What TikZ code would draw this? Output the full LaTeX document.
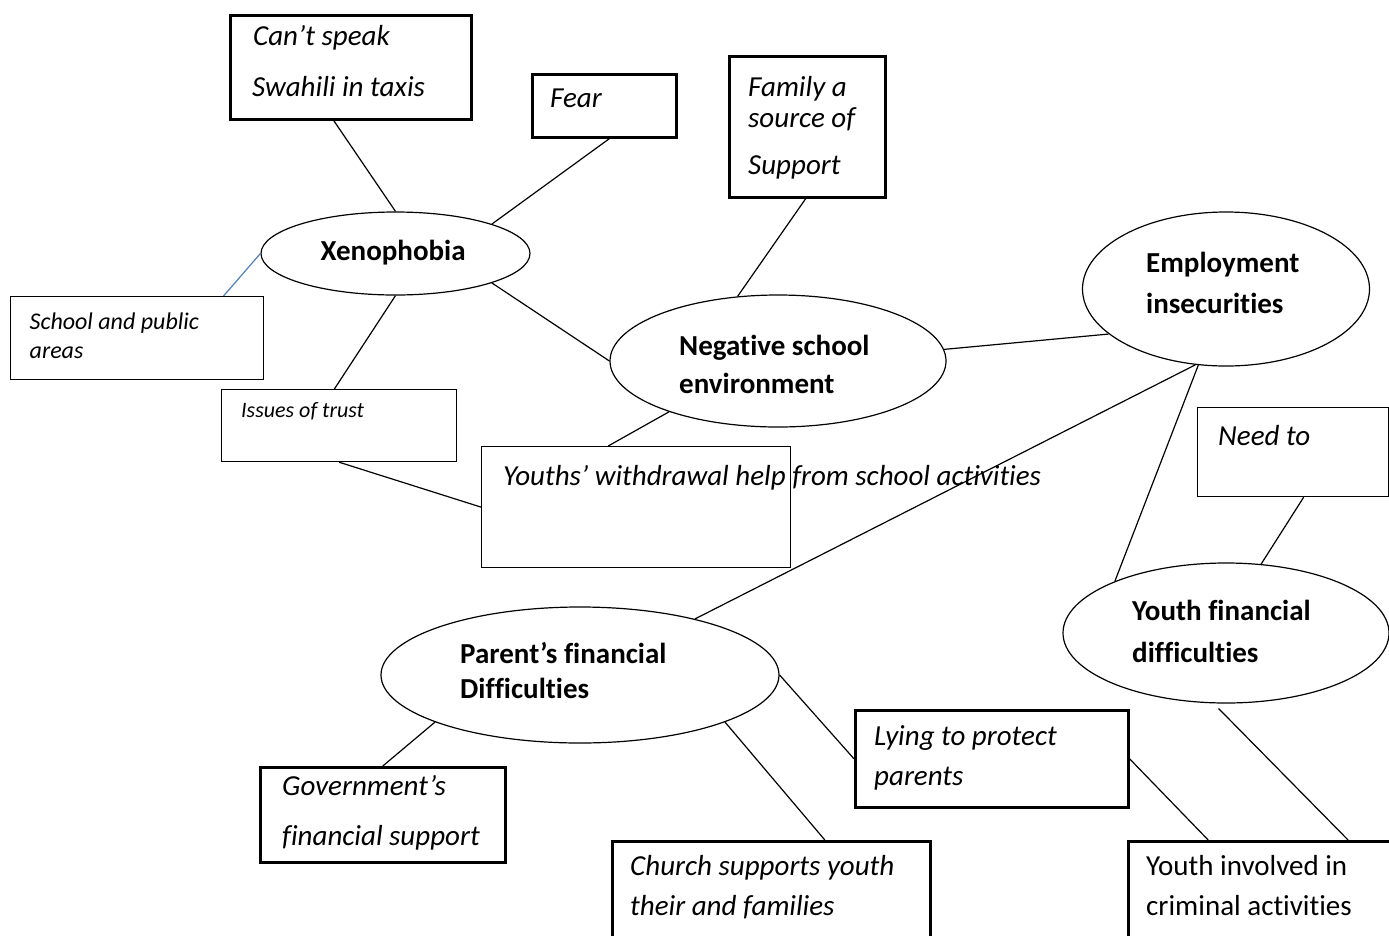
\documentclass[tikz,border=0pt]{standalone}
\usepackage{fontspec}
\setmainfont[Ligatures=CommonOff]{Carlito}
\usetikzlibrary{shapes.geometric,calc}
\definecolor{wordblue}{RGB}{79,129,189}
\begin{document}
\begin{tikzpicture}[x=1pt,y=-1pt,
  thickbox/.style={draw,line width=2.6pt,rectangle,inner sep=0pt,anchor=north west},
  thinbox/.style={draw,line width=1.2pt,rectangle,inner sep=0pt,anchor=north west},
  ell/.style={draw,line width=1.2pt,ellipse,inner sep=0pt},
  lbl/.style={inner sep=0pt,anchor=base west,font=\fontsize{29}{34}\selectfont\itshape},
  lblr/.style={inner sep=0pt,anchor=base west,font=\fontsize{29}{34}\selectfont},
  lblb/.style={inner sep=0pt,anchor=base west,font=\fontsize{29}{34}\selectfont\bfseries},
  conn/.style={line width=1.2pt}]
\useasboundingbox (0,0) rectangle (1389,935);
\clip (0,0) rectangle (1389,935);
\fill[white] (0,0) rectangle (1389,935);
% boxes
\node[thickbox,minimum width=241pt,minimum height=104pt] (cant) at (229,14) {};
\node[thickbox,minimum width=144pt,minimum height=63pt] (fear) at (531,73) {};
\node[thickbox,minimum width=156pt,minimum height=141pt] (family) at (728,55) {};
\node[thinbox,minimum width=253pt,minimum height=83pt] (school) at (10,296) {};
\node[thinbox,minimum width=235pt,minimum height=72pt] (trust) at (221,389) {};
\node[thinbox,minimum width=309pt,minimum height=121pt] (youths) at (481,446) {};
\node[thinbox,minimum width=191pt,minimum height=89pt] (needto) at (1197,407) {};
\node[thickbox,minimum width=245pt,minimum height=95pt] (gov) at (259,766) {};
\node[thickbox,minimum width=318pt,minimum height=130pt] (church) at (611,840) {};
\node[thickbox,minimum width=273pt,minimum height=97pt] (lying) at (854,709) {};
\node[thickbox,minimum width=268pt,minimum height=130pt] (crim) at (1127,840) {};
% ellipses
\node[ell,minimum width=269pt,minimum height=83pt] (xeno) at (395.5,253.5) {};
\node[ell,minimum width=336pt,minimum height=132pt] (nse) at (778,361) {};
\node[ell,minimum width=287pt,minimum height=154pt] (emp) at (1226,289) {};
\node[ell,minimum width=326pt,minimum height=140pt] (yf) at (1226,633) {};
\node[ell,minimum width=398pt,minimum height=136pt] (parent) at (580,675) {};
% texts
\node[lbl] (t1a) at (253,45) {Can’t speak};
\node[lbl] (t1b) at (252,96) {Swahili in taxis};
\node[lbl] (t2) at (550,107) {Fear};
\node[lbl] (t3a) at (748,96) {Family a};
\node[lbl] (t3b) at (748,127) {source of};
\node[lbl] (t3c) at (748,174) {Support};
\node[lblb] (t4) at (320.5,260) {Xenophobia};
\node[lbl,font=\fontsize{24}{28}\selectfont\itshape] (t5a) at (29.5,329) {School and public};
\node[lbl,font=\fontsize{24}{28}\selectfont\itshape] (t5b) at (29.5,358) {areas};
\node[lbl,font=\fontsize{22}{26}\selectfont\itshape] (t6) at (241,417) {Issues of trust};
\node[lbl] (t7) at (503,485) {Youths’ withdrawal help from school activities};
\node[lblb] (t8a) at (679,355) {Negative school};
\node[lblb] (t8b) at (679,393) {environment};
\node[lblb] (t9a) at (1146,272) {Employment};
\node[lblb] (t9b) at (1146,313) {insecurities};
\node[lbl] (t10) at (1218,445) {Need to};
\node[lblb] (t11a) at (1132,620) {Youth financial};
\node[lblb] (t11b) at (1132,662) {difficulties};
\node[lblb] (t12a) at (460,663) {Parent’s financial};
\node[lblb] (t12b) at (460,698) {Difficulties};
\node[lbl] (t13a) at (282,795) {Government’s};
\node[lbl] (t13b) at (282,845) {financial support};
\node[lbl] (t14a) at (874,745) {Lying to protect};
\node[lbl] (t14b) at (874,785) {parents};
\node[lbl] (t15a) at (630,875) {Church supports youth};
\node[lbl] (t15b) at (630,915) {their and families};
\node[lblr] (t16a) at (1146,875) {Youth involved in};
\node[lblr] (t16b) at (1146,915) {criminal activities};
% connectors
\draw[conn] ($(cant.south west)!0.43!(cant.south east)$) -- (xeno.north);
\draw[conn] ($(fear.south west)!0.535!(fear.south east)$) -- (xeno.17.7);
\draw[conn] ($(family.south west)!0.49!(family.south east)$) -- (nse.122.9);
\draw[conn] (xeno.-17.2) -- (nse.west);
\draw[conn] (xeno.south) -- ($(trust.north west)!0.48!(trust.north east)$);
\draw[conn] (trust.south) -- (youths.west);
\draw[conn] (nse.205) -- ($(youths.north west)!0.41!(youths.north east)$);
\draw[conn] (nse.4.4) -- (emp.201.9);
\draw[conn] (emp.248.5) -- (parent.26.6);
\draw[conn] (emp.250.6) -- (yf.155.7);
\draw[conn] ($(needto.south west)!0.555!(needto.south east)$) -- (yf.63.8);
\draw[conn] (parent.198.6) -- (gov.north);
\draw[conn] (parent.-18.8) -- ($(church.north west)!0.667!(church.north east)$);
\draw[conn] (parent.east) -- (lying.west);
\draw[conn] (lying.east) -- ($(crim.north west)!0.30!(crim.north east)$);
\draw[conn] ([yshift=-5pt]yf.264) -- ($(crim.north west)!0.817!(crim.north east)$);
\draw[conn,wordblue] (xeno.west) -- ($(school.north west)!0.84!(school.north east)$);
\end{tikzpicture}
\end{document}
